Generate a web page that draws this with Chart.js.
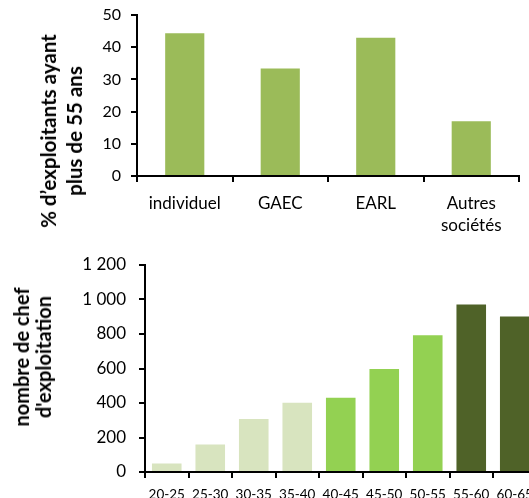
<!DOCTYPE html>
<html lang="fr">
<head>
  <meta charset="UTF-8" />
  <title>Exploitants de plus de 55 ans</title>
  <script src="https://cdn.jsdelivr.net/npm/chart.js@4.4.0/dist/chart.umd.min.js"></script>
  <style>
    html, body { margin: 0; padding: 0; background: #fff; overflow: hidden; }
    #page { position: relative; width: 529px; height: 498px; overflow: hidden; }
    .box { position: absolute; left: 0; }
    .ytitle {
      position: absolute;
      transform: translate(-50%, -50%) rotate(-90deg);
      white-space: nowrap; text-align: center;
      font-family: Lato, sans-serif; font-weight: bold; color: #000;
    }
  </style>
</head>
<body>
<div id="page">
  <div class="box" style="top:0;width:529px;height:245px"><canvas id="haut"></canvas></div>
  <div class="box" style="top:250px;width:560px;height:248px"><canvas id="bas"></canvas></div>
  <div class="ytitle" style="left:61px;top:131px;font-size:20.5px;line-height:26px">% d’exploitants ayant<br>plus de 55 ans</div>
  <div class="ytitle" style="left:32px;top:357px;font-size:20px;line-height:22px">nombre de chef<br>d'exploitation</div>
</div>

<script>
  // ── données ─────────────────────────────────────────────
  const formes      = ['individuel', 'GAEC', 'EARL', ['Autres', 'sociétés']];
  const partPlus55  = [44.3, 33.4, 42.9, 17.0];          // %

  const classesAge  = ['20-25', '25-30', '30-35', '35-40', '40-45', '45-50', '50-55', '55-60', '60-65'];
  const nbChefs     = [50, 160, 307, 402, 431, 597, 793, 971, 901];

  // couleurs par tranche (clair / moyen / foncé)
  const couleursAge = ['#D8E4BF', '#D8E4BF', '#D8E4BF', '#D8E4BF',
                       '#93D152', '#93D152', '#93D152',
                       '#4F6228', '#4F6228'];

  const milliers = v => String(v).replace(/\B(?=(\d{3})+(?!\d))/g, ' ');

  const traits = { display: true, drawOnChartArea: false, drawTicks: true,
                   tickLength: 6, color: '#000', lineWidth: 2 };
  const bord   = { display: true, color: '#000', width: 2 };

  function axeY(max, pas, taille, marge, largeur) {
    return {
      min: 0, max: max,
      ticks: { stepSize: pas, color: '#000', padding: marge,
               font: { family: 'Lato', size: taille }, callback: milliers },
      grid: traits, border: bord,
      afterFit: s => { s.width = largeur; s.paddingTop = 0; s.paddingBottom = 0; }
    };
  }

  function axeX(taille, interligne, marge, hauteur) {
    return {
      offset: true,
      ticks: { color: '#000', padding: marge, maxRotation: 0, autoSkip: false,
               font: { family: 'Lato', size: taille, lineHeight: interligne } },
      grid: Object.assign({ offset: true }, traits), border: bord,
      afterFit: s => { s.height = hauteur; s.paddingLeft = 0; s.paddingRight = 0; }
    };
  }

  const commun = {
    responsive: true, maintainAspectRatio: false, animation: false,
    plugins: { legend: { display: false }, tooltip: { enabled: false } }
  };

  // ── graphe du haut : part des plus de 55 ans ────────────
  new Chart(document.getElementById('haut'), {
    type: 'bar',
    data: { labels: formes,
            datasets: [{ data: partPlus55, backgroundColor: '#9BBB59',
                         barPercentage: 0.41, categoryPercentage: 1 }] },
    options: Object.assign({}, commun, {
      layout: { padding: { top: 15, right: 10, left: 0, bottom: 0 } },
      scales: { x: axeX(17, '22px', 11, 69), y: axeY(50, 10, 16, 10, 137) }
    })
  });

  // ── graphe du bas : chefs d'exploitation par âge ────────
  new Chart(document.getElementById('bas'), {
    type: 'bar',
    data: { labels: classesAge,
            datasets: [{ data: nbChefs, backgroundColor: couleursAge,
                         barPercentage: 0.68, categoryPercentage: 1 }] },
    options: Object.assign({}, commun, {
      layout: { padding: { top: 15, right: 23.5, left: 0, bottom: 0 } },
      scales: { x: axeX(13.5, '18px', 8, 26), y: axeY(1200, 200, 17, 13, 145) }
    })
  });
</script>
</body>
</html>
